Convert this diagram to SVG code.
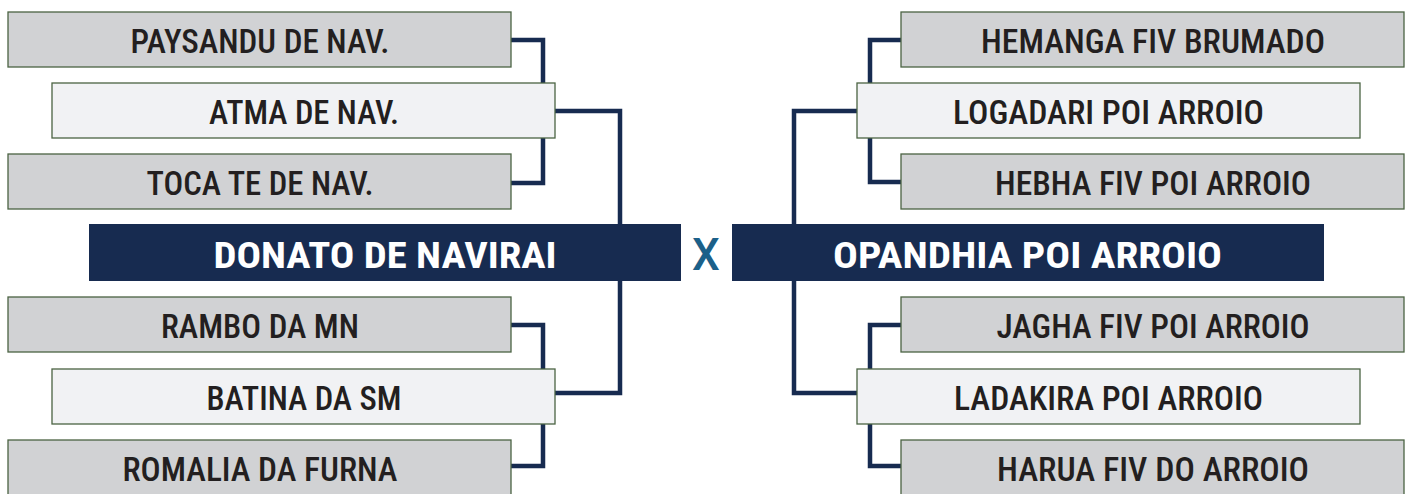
<svg xmlns="http://www.w3.org/2000/svg" width="1410" height="494" viewBox="0 0 1410 494">
<style>
.g{fill:#d1d2d4;stroke:#4b6343;stroke-width:1.3}
.l{fill:#f1f2f4;stroke:#4b6343;stroke-width:1.3}
.n{fill:#172b50}
.t{font-family:Roboto,"Liberation Sans",sans-serif;font-stretch:condensed;font-weight:500;font-size:33px;fill:#231f20;text-anchor:middle}
.w{font-family:Roboto,"Liberation Sans",sans-serif;font-stretch:condensed;font-weight:700;font-size:36px;fill:#ffffff;text-anchor:middle}
.c{fill:none;stroke:#172b50;stroke-width:4.5;stroke-linejoin:miter}
</style>
<rect width="1410" height="494" fill="#ffffff"/>
<g id="connectors">
<path class="c" d="M511,40 H543 V83"/>
<path class="c" d="M511,183 H543 V138"/>
<path class="c" d="M555,111 H620 V224"/>
<path class="c" d="M620,281 V393 H555"/>
<path class="c" d="M511,325 H543 V369"/>
<path class="c" d="M511,466 H543 V424"/>
<path class="c" d="M901,40 H870 V83"/>
<path class="c" d="M901,182 H870 V138"/>
<path class="c" d="M857,111 H794 V224"/>
<path class="c" d="M794,281 V393 H857"/>
<path class="c" d="M901,325 H870 V369"/>
<path class="c" d="M901,466 H870 V424"/>
</g>
<g id="paysandu"><rect class="g" x="8" y="12" width="503" height="55"/><text class="t" x="260" y="53" textLength="259" lengthAdjust="spacingAndGlyphs">PAYSANDU DE NAV.</text></g>
<g id="atma"><rect class="l" x="52" y="83" width="503" height="55"/><text class="t" x="304" y="124" textLength="190" lengthAdjust="spacingAndGlyphs">ATMA DE NAV.</text></g>
<g id="toca"><rect class="g" x="8" y="154" width="503" height="55"/><text class="t" x="260" y="195" textLength="227" lengthAdjust="spacingAndGlyphs">TOCA TE DE NAV.</text></g>
<g id="donato"><rect class="n" x="89" y="224" width="592" height="57"/><text class="w" x="385" y="268" textLength="343" lengthAdjust="spacingAndGlyphs">DONATO DE NAVIRAI</text></g>
<g id="rambo"><rect class="g" x="8" y="297" width="503" height="55"/><text class="t" x="260" y="338" textLength="198" lengthAdjust="spacingAndGlyphs">RAMBO DA MN</text></g>
<g id="batina"><rect class="l" x="52" y="369" width="503" height="55"/><text class="t" x="304" y="410" textLength="195" lengthAdjust="spacingAndGlyphs">BATINA DA SM</text></g>
<g id="romalia"><rect class="g" x="8" y="440" width="503" height="56"/><text class="t" x="260" y="481" textLength="275" lengthAdjust="spacingAndGlyphs">ROMALIA DA FURNA</text></g>
<g id="versus"><text x="706" y="270" font-family="Roboto,'Liberation Sans',sans-serif" font-size="44" font-weight="500" fill="#1b6089" text-anchor="middle">X</text></g>
<g id="hemanga"><rect class="g" x="901" y="12" width="503" height="55"/><text class="t" x="1153" y="53" textLength="344" lengthAdjust="spacingAndGlyphs">HEMANGA FIV BRUMADO</text></g>
<g id="logadari"><rect class="l" x="857" y="83" width="503" height="55"/><text class="t" x="1108.5" y="124" textLength="311" lengthAdjust="spacingAndGlyphs">LOGADARI POI ARROIO</text></g>
<g id="hebha"><rect class="g" x="901" y="154" width="503" height="55"/><text class="t" x="1153" y="195" textLength="316" lengthAdjust="spacingAndGlyphs">HEBHA FIV POI ARROIO</text></g>
<g id="opandhia"><rect class="n" x="732" y="224" width="592" height="57"/><text class="w" x="1027.5" y="268" textLength="389" lengthAdjust="spacingAndGlyphs">OPANDHIA POI ARROIO</text></g>
<g id="jagha"><rect class="g" x="901" y="297" width="503" height="55"/><text class="t" x="1153" y="338" textLength="313" lengthAdjust="spacingAndGlyphs">JAGHA FIV POI ARROIO</text></g>
<g id="ladakira"><rect class="l" x="857" y="369" width="503" height="55"/><text class="t" x="1108.5" y="410" textLength="309" lengthAdjust="spacingAndGlyphs">LADAKIRA POI ARROIO</text></g>
<g id="harua"><rect class="g" x="901" y="440" width="503" height="56"/><text class="t" x="1153" y="481" textLength="312" lengthAdjust="spacingAndGlyphs">HARUA FIV DO ARROIO</text></g>
</svg>
